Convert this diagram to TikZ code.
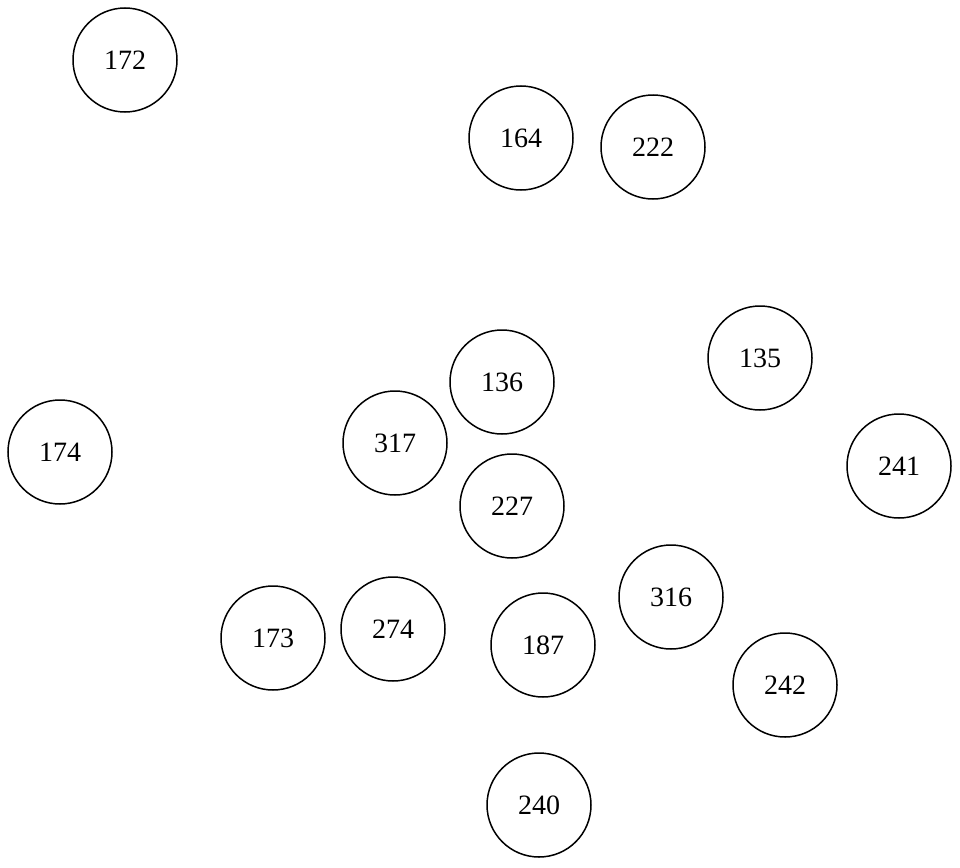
\documentclass[tikz,border=0pt]{standalone}
\usepackage{fontspec}
\setmainfont{Liberation Serif}
\begin{document}
\begin{tikzpicture}[x=1pt,y=-1pt,
  vert/.style={circle,draw,line width=1.5pt,minimum size=104pt,inner sep=0pt,font=\fontsize{28}{33}\selectfont}]
\useasboundingbox (0,0) rectangle (960,867);
\node[vert] (n172) at (125,60) {172};
\node[vert] (n164) at (521,138) {164};
\node[vert] (n222) at (653,147) {222};
\node[vert] (n135) at (760,358) {135};
\node[vert] (n136) at (502,382) {136};
\node[vert] (n174) at (60,452) {174};
\node[vert] (n317) at (395,443) {317};
\node[vert] (n241) at (899,466) {241};
\node[vert] (n227) at (512,506) {227};
\node[vert] (n316) at (671,597) {316};
\node[vert] (n173) at (273,638) {173};
\node[vert] (n274) at (393,629) {274};
\node[vert] (n187) at (543,645) {187};
\node[vert] (n242) at (785,685) {242};
\node[vert] (n240) at (539,805) {240};
\end{tikzpicture}
\end{document}
